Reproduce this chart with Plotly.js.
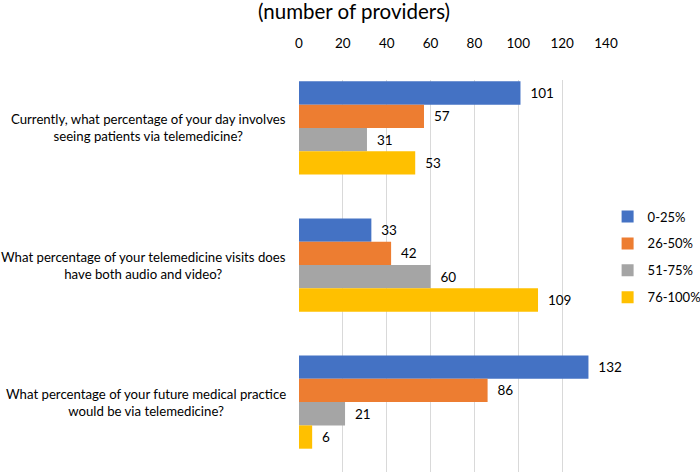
<!DOCTYPE html>
<html><head><meta charset="utf-8">
<script src="https://cdn.plot.ly/plotly-3.0.1.min.js"></script>
<style>body{margin:0}#c{width:700px;height:472px}</style>
</head><body><div id="c"></div>
<script>
const categories = [
  "Currently, what percentage of your day involves<br>seeing patients via telemedicine?",
  "What percentage of your telemedicine visits does<br>have both audio and video?",
  "What percentage of your future medical practice<br>would be via telemedicine?"
];
const seriesNames = ["0-25%", "26-50%", "51-75%", "76-100%"];
const v0_25 = [101, 33, 132];
const v26_50 = [57, 42, 86];
const v51_75 = [31, 60, 21];
const v76_100 = [53, 109, 6];
const colors = ["#4472C4", "#ED7D31", "#A5A5A5", "#FFC000"];
const xTicks = [0, 20, 40, 60, 80, 100, 120, 140];
const font = "Lato, 'Open Sans', sans-serif";

const allVals = [v0_25, v26_50, v51_75, v76_100];
const traces = allVals.map((vals, i) => ({
  type: 'bar', orientation: 'h', name: seriesNames[i], legendgroup: 'g' + i,
  y: categories, x: vals,
  marker: {color: colors[i]},
  text: vals.map(v => '  ' + v), textposition: 'outside',
  textfont: {family: font, size: 13.5, color: '#000'},
  cliponaxis: false, hoverinfo: 'x+name'
}));

const annotations = categories.map(c => ({
  xref: 'paper', yref: 'y', x: -0.035, y: c, xanchor: 'right', yanchor: 'middle',
  text: c, align: 'center', showarrow: false,
  font: {family: font, size: 13.2, color: '#000'}
}));
annotations.push({
  xref: 'paper', yref: 'paper', x: 0.18, y: 1.176, xanchor: 'center', yanchor: 'middle',
  text: '(number of providers)', showarrow: false,
  font: {family: font, size: 20.5, color: '#000'}
});

const layout = {
  width: 700, height: 472,
  margin: {l: 299, r: 94, t: 80, b: 0, pad: 0, autoexpand: false},
  paper_bgcolor: '#fff', plot_bgcolor: '#fff',
  barmode: 'group', bargap: 0.32, bargroupgap: 0,
  showlegend: true,
  legend: {xref: 'container', yref: 'container', x: 0.868, y: 0.573, xanchor: 'left', yanchor: 'top',
    font: {family: font, size: 13, color: '#000'}, tracegroupgap: 7, itemwidth: 30,
    traceorder: 'grouped'},
  xaxis: {side: 'top', range: [0, 140], tickvals: xTicks, ticktext: xTicks.map(String),
    showgrid: true, gridcolor: '#D9D9D9', zeroline: false, showline: false,
    ticks: '', ticklabelstandoff: 28,
    tickfont: {family: font, size: 13.5, color: '#000'}, fixedrange: true},
  yaxis: {type: 'category', range: [2.51, -0.35], showticklabels: false,
    showgrid: false, zeroline: false, showline: false, ticks: ''},
  annotations: annotations
};
Plotly.newPlot('c', traces, layout, {displayModeBar: false, staticPlot: true});
</script></body></html>
